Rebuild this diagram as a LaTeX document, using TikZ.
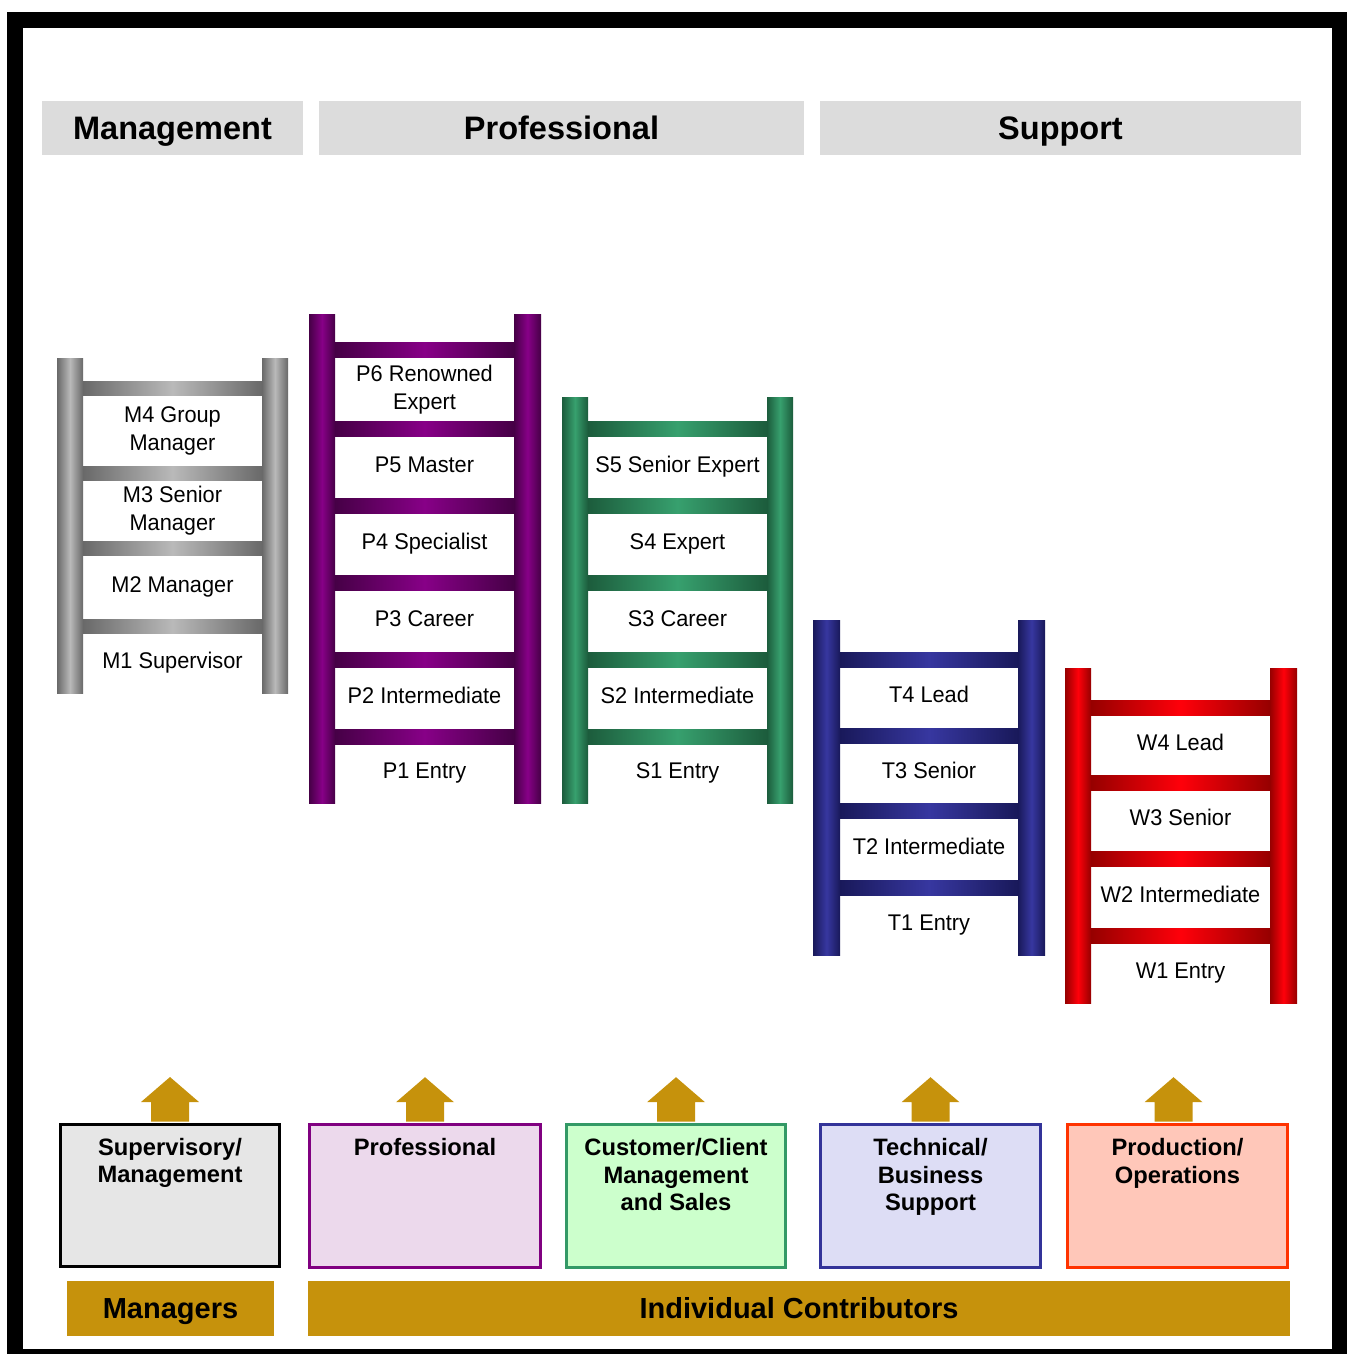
\documentclass[tikz,border=0pt]{standalone}
\usepackage{fontspec}
\setmainfont{Liberation Sans}
\newfontfamily\rungfont[FakeStretch=0.96]{Liberation Sans}
\usetikzlibrary{positioning}

\definecolor{hdrgray}{RGB}{220,220,220}
\definecolor{gold}{RGB}{198,146,12}
\definecolor{mdark}{RGB}{105,105,105}
\definecolor{mlight}{RGB}{185,185,185}
\definecolor{pdark}{RGB}{70,0,70}
\definecolor{plight}{RGB}{135,0,135}
\definecolor{sdark}{RGB}{28,92,60}
\definecolor{slight}{RGB}{55,160,110}
\definecolor{tdark}{RGB}{25,25,90}
\definecolor{tlight}{RGB}{55,55,160}
\definecolor{wdark}{RGB}{150,0,0}
\definecolor{wlight}{RGB}{255,0,10}
\definecolor{supfill}{RGB}{230,230,230}
\definecolor{proffill}{RGB}{236,217,236}
\definecolor{profline}{RGB}{128,0,128}
\definecolor{custfill}{RGB}{204,255,204}
\definecolor{custline}{RGB}{51,153,102}
\definecolor{techfill}{RGB}{221,221,245}
\definecolor{techline}{RGB}{51,51,153}
\definecolor{prodfill}{RGB}{255,199,185}
\definecolor{prodline}{RGB}{255,51,0}

\begin{document}
\begin{tikzpicture}[x=0.02cm,y=-0.02cm]
	\def \hdrrow{128}
	\def \boxrow{1196}
	\def \barrow{1308.5}
	\tikzstyle{h-node}=[fill=hdrgray,minimum height=1.1cm,inner sep=0pt,text height=13.2pt,text depth=0pt,font=\fontsize{18.5}{22}\selectfont\bfseries]
	\tikzstyle{g-node}=[fill=gold,minimum height=1.1cm,inner sep=0pt,text height=11.8pt,text depth=0pt,font=\fontsize{16.5}{20}\selectfont\bfseries]
	\tikzstyle{r-node}=[inner sep=0pt,text height=9.2pt,text depth=0pt,font=\rungfont\fontsize{12.9}{15.9}\selectfont]
	\tikzstyle{rr-node}=[inner sep=0pt,align=center,font=\rungfont\fontsize{12.9}{15.9}\selectfont]
	\tikzstyle{b-node}=[draw,line width=1.5pt,minimum width=4.4cm,minimum height=2.86cm,inner sep=0pt]
	\tikzstyle{b-text}=[inner sep=0pt,align=center,font=\fontsize{13.5}{15.6}\selectfont\bfseries]
	\tikzstyle{m-wood}=[left color=mdark,right color=mdark,middle color=mlight]
	\tikzstyle{p-wood}=[left color=pdark,right color=pdark,middle color=plight]
	\tikzstyle{s-wood}=[left color=sdark,right color=sdark,middle color=slight]
	\tikzstyle{t-wood}=[left color=tdark,right color=tdark,middle color=tlight]
	\tikzstyle{w-wood}=[left color=wdark,right color=wdark,middle color=wlight]

	\useasboundingbox (0,0) rectangle (1350,1354);
	\draw[line width=9.07pt] (15,20) rectangle (1339.5,1357);

	% column headers
	\node[h-node,minimum width=5.22cm] (hmgmt) at (172.5,\hdrrow) {Management};
	\node[h-node,minimum width=9.7cm] (hprof) at (561.5,\hdrrow) {Professional};
	\node[h-node,minimum width=9.62cm] (hsupp) at (1060.5,\hdrrow) {Support};

	% management ladder
	\shade[m-wood] (57,359) rectangle (83,693);
	\shade[m-wood] (262,359) rectangle (288,693);
	\shade[m-wood] (83,381) rectangle (262,395);
	\shade[m-wood] (83,466) rectangle (262,480);
	\shade[m-wood] (83,541) rectangle (262,555);
	\shade[m-wood] (83,619) rectangle (262,633);
	\node[rr-node] (m4) at (172.5,431) {M4 Group\\Manager};
	\node[rr-node] (m3) at (172.5,511) {M3 Senior\\Manager};
	\node[r-node] (m2) at (172.5,584) {M2 Manager};
	\node[r-node] (m1) at (172.5,660) {M1 Supervisor};

	% professional ladder
	\shade[p-wood] (309,315) rectangle (335,803);
	\shade[p-wood] (514,315) rectangle (541,803);
	\shade[p-wood] (335,343) rectangle (514,358);
	\shade[p-wood] (335,421) rectangle (514,436);
	\shade[p-wood] (335,498) rectangle (514,513);
	\shade[p-wood] (335,575) rectangle (514,590);
	\shade[p-wood] (335,652) rectangle (514,667);
	\shade[p-wood] (335,729) rectangle (514,744);
	\node[rr-node] (p6) at (424.5,390) {P6 Renowned\\Expert};
	\node[r-node] (p5) at (424.5,464) {P5 Master};
	\node[r-node] (p4) at (424.5,541) {P4 Specialist};
	\node[r-node] (p3) at (424.5,618) {P3 Career};
	\node[r-node] (p2) at (424.5,695) {P2 Intermediate};
	\node[r-node] (p1) at (424.5,770.5) {P1 Entry};

	% sales ladder
	\shade[s-wood] (562,397) rectangle (588,803);
	\shade[s-wood] (767,397) rectangle (793,803);
	\shade[s-wood] (588,421) rectangle (767,436);
	\shade[s-wood] (588,498) rectangle (767,513);
	\shade[s-wood] (588,575) rectangle (767,590);
	\shade[s-wood] (588,652) rectangle (767,667);
	\shade[s-wood] (588,729) rectangle (767,744);
	\node[r-node] (s5) at (677.5,464) {S5 Senior Expert};
	\node[r-node] (s4) at (677.5,541) {S4 Expert};
	\node[r-node] (s3) at (677.5,618) {S3 Career};
	\node[r-node] (s2) at (677.5,695) {S2 Intermediate};
	\node[r-node] (s1) at (677.5,770.5) {S1 Entry};

	% technical ladder
	\shade[t-wood] (813,620) rectangle (840,955);
	\shade[t-wood] (1018,620) rectangle (1045,955);
	\shade[t-wood] (840,652) rectangle (1018,667);
	\shade[t-wood] (840,728) rectangle (1018,743);
	\shade[t-wood] (840,803) rectangle (1018,818);
	\shade[t-wood] (840,880) rectangle (1018,895);
	\node[r-node] (t4) at (929,694.5) {T4 Lead};
	\node[r-node] (t3) at (929,770) {T3 Senior};
	\node[r-node] (t2) at (929,846) {T2 Intermediate};
	\node[r-node] (t1) at (929,922) {T1 Entry};

	% production ladder
	\shade[w-wood] (1065,668) rectangle (1091,1003);
	\shade[w-wood] (1270,668) rectangle (1297,1003);
	\shade[w-wood] (1091,700) rectangle (1270,715);
	\shade[w-wood] (1091,775) rectangle (1270,790);
	\shade[w-wood] (1091,851) rectangle (1270,866);
	\shade[w-wood] (1091,928) rectangle (1270,943);
	\node[r-node] (w4) at (1180.5,742) {W4 Lead};
	\node[r-node] (w3) at (1180.5,817.5) {W3 Senior};
	\node[r-node] (w2) at (1180.5,894) {W2 Intermediate};
	\node[r-node] (w1) at (1180.5,970) {W1 Entry};

	% job families
	\node[b-node,line width=1.7pt,fill=supfill,minimum width=4.38cm,minimum height=2.84cm] (supbox) at (170,1195.5) {};
	\node[b-node,draw=profline,fill=proffill,minimum width=4.62cm] (profbox) at (425,\boxrow) {};
	\node[b-node,draw=custline,fill=custfill,minimum width=4.38cm] (custbox) at (676,\boxrow) {};
	\node[b-node,draw=techline,fill=techfill] (techbox) at (930.5,\boxrow) {};
	\node[b-node,draw=prodline,fill=prodfill] (prodbox) at (1177.5,\boxrow) {};
	\node[b-text,below=8.5pt of supbox.north] (suptext) {Supervisory/\\Management};
	\node[b-text,below=8.5pt of profbox.north] (proftext) {Professional};
	\node[b-text,below=8.5pt of custbox.north] (custtext) {Customer/Client\\Management\\and Sales};
	\node[b-text,below=8.5pt of techbox.north] (techtext) {Technical/\\Business\\Support};
	\node[b-text,below=8.5pt of prodbox.north] (prodtext) {Production/\\Operations};

	% arrows
	\fill[gold] (supbox.north) +(-19,-1.5) -- +(-19,-21) -- +(-29,-21) -- +(0,-46) -- +(29,-21) -- +(19,-21) -- +(19,-1.5) -- cycle;
	\fill[gold] (profbox.north) +(-19,-1.5) -- +(-19,-21) -- +(-29,-21) -- +(0,-46) -- +(29,-21) -- +(19,-21) -- +(19,-1.5) -- cycle;
	\fill[gold] (custbox.north) +(-19,-1.5) -- +(-19,-21) -- +(-29,-21) -- +(0,-46) -- +(29,-21) -- +(19,-21) -- +(19,-1.5) -- cycle;
	\fill[gold] (techbox.north) +(-19,-1.5) -- +(-19,-21) -- +(-29,-21) -- +(0,-46) -- +(29,-21) -- +(19,-21) -- +(19,-1.5) -- cycle;
	\fill[gold] (prodbox.north) +(-23,-1.5) -- +(-23,-21) -- +(-33,-21) -- +(-4,-46) -- +(25,-21) -- +(15,-21) -- +(15,-1.5) -- cycle;

	% bottom bars
	\node[g-node,minimum width=4.14cm] (mgrs) at (170.5,\barrow) {Managers};
	\node[g-node,minimum width=19.64cm] (indiv) at (799,\barrow) {Individual Contributors};
\end{tikzpicture}
\end{document}
